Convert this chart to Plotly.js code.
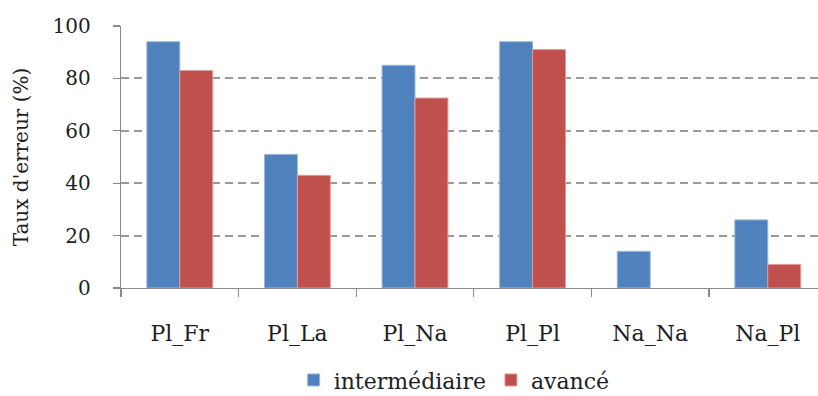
<!DOCTYPE html>
<html>
<head>
<meta charset="utf-8">
<script src="https://cdn.plot.ly/plotly-3.0.1.min.js"></script>
<style>
  html, body { margin: 0; padding: 0; background: #fff; }
  #chart { width: 818px; height: 396px; }
</style>
</head>
<body>
<div id="chart"></div>
<script>
// Error rate per word-pair category, by learner level
const categories = ['Pl_Fr', 'Pl_La', 'Pl_Na', 'Pl_Pl', 'Na_Na', 'Na_Pl'];
const intermediaire = [94, 51, 85, 94, 14, 26];
const avance = [83, 43, 72.5, 91, 0, 9];
const seriesNames = ['intermédiaire', 'avancé'];
const yTicks = [0, 20, 40, 60, 80, 100];

const family = '"DejaVu Serif", "Liberation Serif", serif';
const ink = '#1e1e1e';
const tickFont = { family: family, size: 20, color: ink };
const bigFont = { family: family, size: 22, color: ink };
const axisGrey = '#8a8a8a';

// a light rim around each bar, skipped for empty bars so nothing shows at zero
const rim = vals => vals.map(v => (v > 0 ? 1 : 0));

const traces = [
  {
    type: 'bar', name: seriesNames[0], x: categories, y: intermediaire,
    marker: { color: '#4F81BD', line: { color: '#9ab6dc', width: rim(intermediaire) } },
    hoverinfo: 'skip'
  },
  {
    type: 'bar', name: seriesNames[1], x: categories, y: avance,
    marker: { color: '#C0504D', line: { color: '#e29a98', width: rim(avance) } },
    hoverinfo: 'skip'
  }
];

const layout = {
  width: 818, height: 396,
  margin: { l: 121, r: 0, t: 26, b: 108 },
  paper_bgcolor: '#fff', plot_bgcolor: '#fff',
  font: tickFont,
  barmode: 'group', bargap: 0.44, bargroupgap: 0,
  showlegend: true,
  legend: {
    orientation: 'h', xref: 'paper', x: 0.478, xanchor: 'center',
    yref: 'container', y: 0.04, yanchor: 'middle',
    font: bigFont, itemclick: false, itemdoubleclick: false
  },
  xaxis: {
    type: 'category', range: [-0.5, 5.427],
    showline: true, linecolor: axisGrey, linewidth: 1.3,
    ticks: 'outside', tickson: 'boundaries', ticklen: 8, tickcolor: axisGrey, tickwidth: 1.3,
    ticklabelstandoff: 25, tickfont: bigFont,
    showgrid: false, zeroline: false, fixedrange: true
  },
  yaxis: {
    range: [0, 100], tickvals: yTicks,
    showline: true, linecolor: axisGrey, linewidth: 1.3,
    ticks: 'outside', ticklen: 7, tickcolor: axisGrey, tickwidth: 1.3,
    ticklabelstandoff: 18, tickfont: tickFont,
    showgrid: true, gridcolor: '#9a9a9a', gridwidth: 2, griddash: '8px,5px',
    zeroline: false, fixedrange: true,
    title: { text: "Taux d'erreur (%)", font: tickFont, standoff: 18 }
  }
};

Plotly.newPlot('chart', traces, layout, { staticPlot: true });
</script>
</body>
</html>
